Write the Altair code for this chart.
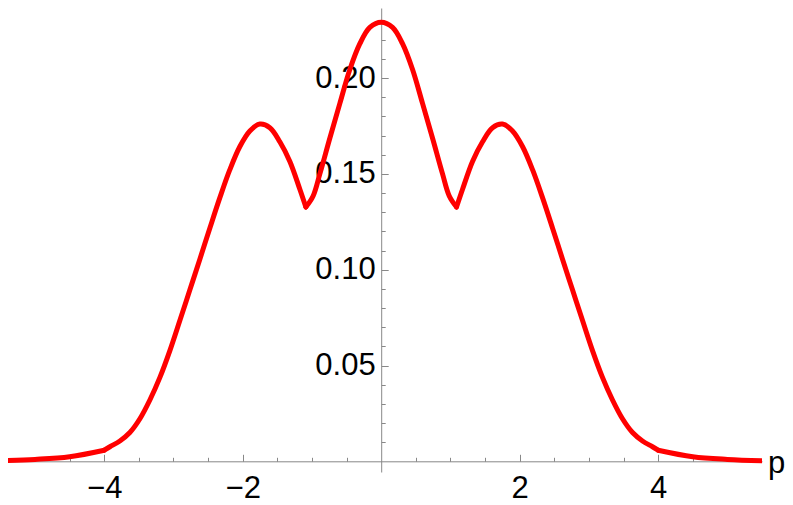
import altair as alt
import pandas as pd

# momentum values p and probability density (left half, then right half)
p_vals = [-5.5, -5.0, -4.5, -4.0, -3.918, -3.774, -3.630, -3.485, -3.341, -3.196, -3.052,
          -2.908, -2.763, -2.619, -2.474, -2.330, -2.186, -2.041, -1.897, -1.752, -1.608,
          -1.464, -1.319, -1.175, -1.088, -0.983, -0.886, -0.742, -0.597, -0.453, -0.308,
          -0.164, 0.0,
          0.164, 0.308, 0.453, 0.597, 0.742, 0.886, 0.983, 1.088, 1.175, 1.319, 1.464,
          1.608, 1.752, 1.897, 2.041, 2.186, 2.330, 2.474, 2.619, 2.763, 2.908, 3.052,
          3.196, 3.341, 3.485, 3.630, 3.774, 3.918, 4.0, 4.5, 5.0, 5.5]
dens_vals = [0.0003, 0.0010, 0.0024, 0.0058, 0.0076, 0.0106, 0.0150, 0.0222, 0.0320, 0.0438, 0.0578,
             0.0735, 0.0895, 0.1055, 0.1218, 0.1376, 0.1522, 0.1643, 0.1724, 0.1760, 0.1741,
             0.1668, 0.1565, 0.1420, 0.1327, 0.1385, 0.1500, 0.1686, 0.1868, 0.2045, 0.2180,
             0.2265, 0.2292,
             0.2265, 0.2180, 0.2045, 0.1868, 0.1686, 0.1500, 0.1385, 0.1327, 0.1420, 0.1565, 0.1668,
             0.1741, 0.1760, 0.1724, 0.1643, 0.1522, 0.1376, 0.1218, 0.1055, 0.0895, 0.0735, 0.0578,
             0.0438, 0.0320, 0.0222, 0.0150, 0.0106, 0.0076, 0.0058, 0.0024, 0.0010, 0.0003]
# smooth pieces of the curve (kinks at the boundaries)
piece_bounds = [-5.5, -4.0, -1.088, 1.088, 4.0, 5.5]

x_label_ticks = [-4, -2, 2, 4]
x_minor_ticks = [-5.0, -4.5, -3.5, -3.0, -2.5, -1.5, -1.0, -0.5, 0.5, 1.0, 1.5, 2.5, 3.0, 3.5, 4.5, 5.0]
y_label_ticks = [0.05, 0.10, 0.15, 0.20]
y_minor_ticks = [0.01, 0.02, 0.03, 0.04, 0.06, 0.07, 0.08, 0.09, 0.11, 0.12, 0.13, 0.14,
                 0.16, 0.17, 0.18, 0.19, 0.21, 0.22, 0.23]

rows = []
for k in range(len(piece_bounds) - 1):
    lo, hi = piece_bounds[k], piece_bounds[k + 1]
    for pv, dv in zip(p_vals, dens_vals):
        if lo - 1e-9 <= pv <= hi + 1e-9:
            rows.append({"p": pv, "d": dv, "seg": k})
df = pd.DataFrame(rows)

W, H = 754, 464
X_DOM = [-5.39, 5.5]
Y_DOM = [-0.00558, 0.2366]
x0_px = (0 - X_DOM[0]) / (X_DOM[1] - X_DOM[0]) * W
y0_px = (Y_DOM[1] - 0) / (Y_DOM[1] - Y_DOM[0]) * H

xsc = alt.Scale(domain=X_DOM, nice=False, zero=False)
ysc = alt.Scale(domain=Y_DOM, nice=False, zero=False)
AX = "#888888"
FONT = "Liberation Sans"
FS = 31

curve = alt.Chart(df).mark_line(
    color="#ff0000", strokeWidth=5, interpolate="catmull-rom",
    strokeCap="round", strokeJoin="round", clip=True
).encode(
    x=alt.X("p:Q", scale=xsc, axis=alt.Axis(
        orient="bottom", offset=-(H - y0_px), values=x_label_ticks, format="d",
        ticks=False, domain=True, domainColor=AX, domainWidth=1, grid=False,
        labelFont=FONT, labelFontSize=FS, labelColor="black", labelPadding=12,
        title=None)),
    y=alt.Y("d:Q", scale=ysc, axis=alt.Axis(
        orient="left", offset=-x0_px, values=y_label_ticks, format=".2f",
        ticks=False, domain=True, domainColor=AX, domainWidth=1, grid=False,
        labelFont=FONT, labelFontSize=FS, labelColor="black", labelPadding=6,
        title=None)),
    detail="seg:N",
)

major = alt.Chart(df).mark_line(strokeOpacity=0).encode(
    x=alt.X("p:Q", scale=xsc, axis=alt.Axis(
        orient="top", offset=-y0_px, values=x_label_ticks, ticks=True, tickSize=7,
        tickColor=AX, tickWidth=1, labels=False, domain=False, grid=False, title=None)),
    y=alt.Y("d:Q", scale=ysc, axis=alt.Axis(
        orient="right", offset=-(W - x0_px), values=y_label_ticks, ticks=True, tickSize=7,
        tickColor=AX, tickWidth=1, labels=False, domain=False, grid=False, title=None)),
    detail="seg:N",
)

minor = alt.Chart(df).mark_line(strokeOpacity=0).encode(
    x=alt.X("p:Q", scale=xsc, axis=alt.Axis(
        orient="top", offset=-y0_px, values=x_minor_ticks, ticks=True, tickSize=4,
        tickColor=AX, tickWidth=1, labels=False, domain=False, grid=False, title=None)),
    y=alt.Y("d:Q", scale=ysc, axis=alt.Axis(
        orient="right", offset=-(W - x0_px), values=y_minor_ticks, ticks=True, tickSize=4,
        tickColor=AX, tickWidth=1, labels=False, domain=False, grid=False, title=None)),
    detail="seg:N",
)

label_df = pd.DataFrame({"p": [X_DOM[1]], "d": [0.0], "t": ["p"]})
plabel = alt.Chart(label_df).mark_text(
    font=FONT, fontSize=FS, color="black", align="left", baseline="alphabetic",
    dx=6, dy=12
).encode(
    x=alt.X("p:Q", scale=xsc, axis=None),
    y=alt.Y("d:Q", scale=ysc, axis=None),
    text="t:N",
)

chart = alt.layer(curve, major, minor, plabel).resolve_axis(
    x="independent", y="independent"
).properties(
    width=W, height=H,
    autosize=alt.AutoSizeParams(type="none"),
    padding={"left": 0, "top": 0, "right": 23, "bottom": 33},
).configure_view(stroke=None)

chart.save("out.html", embed_options={"renderer": "svg", "actions": False})
